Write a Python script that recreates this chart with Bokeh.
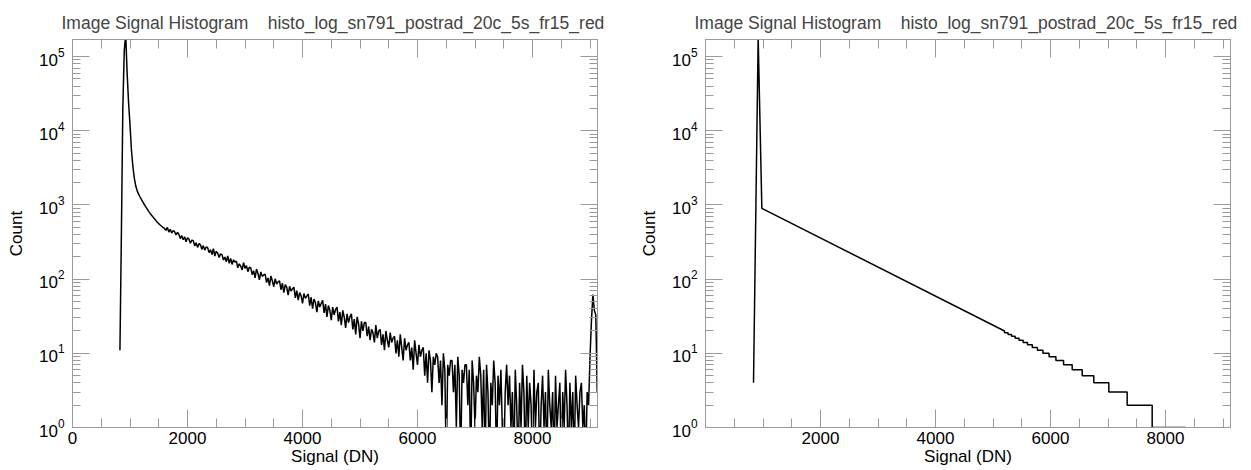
import numpy as np
from bokeh.plotting import figure
from bokeh.layouts import row
from bokeh.models import (Range1d, LinearAxis, LogAxis, LogTicker, FixedTicker,
                          CustomJSTickFormatter)
from bokeh.embed import file_html
from bokeh.resources import INLINE

# ---------------- data ----------------
TITLE = "Image Signal Histogram \u00a0\u00a0\u00a0histo_log_sn791_postrad_20c_5s_fr15_red"
X_LABEL = "Signal (DN)"
Y_LABEL = "Count"

x_ticks_left = [0, 2000, 4000, 6000, 8000]
x_ticks_right = [2000, 4000, 6000, 8000]
x_minor_ticks = [500, 1000, 1500, 2500, 3000, 3500, 4500, 5000, 5500,
                 6500, 7000, 7500, 8500, 9000]
x_limits = [0, 9130]
y_limits = [1, 1.7e5]

# left panel: noisy histogram, bins of 25 DN starting at 825 DN
left_bin_start = 825
left_bin_width = 25
left_counts = [
    11, 400, 20000, 120000, 200000, 60000, 24000, 12000, 5500, 3300,
    2300, 1800, 1550, 1400, 1280, 1180, 1090, 1010, 940, 880,
    820, 770, 725, 690, 650, 615, 585, 560, 537, 516, 498,
    482, 455, 498, 430, 471, 418, 452, 436, 395, 428,
    401, 352, 386, 340, 372, 318, 361, 347, 305, 336,
    329, 281, 310, 268, 301, 290, 252, 283, 246, 271,
    266, 228, 249, 214, 258, 205, 237, 223, 196, 219,
    214, 181, 199, 172, 206, 163, 190, 158, 182, 170,
    175, 142, 161, 150, 133, 167, 140, 152, 126, 145,
    142, 115, 130, 104, 137, 119, 98, 125, 109, 114,
    117, 90, 104, 82, 110, 95, 79, 101, 86, 92,
    95, 72, 88, 66, 84, 78, 61, 80, 69, 74,
    78, 56, 70, 52, 66, 60, 47, 64, 55, 59,
    63, 44, 57, 40, 54, 48, 36, 51, 42, 47,
    52, 35, 46, 31, 44, 38, 28, 42, 33, 39,
    42, 27, 36, 24, 38, 31, 22, 34, 26, 31,
    34, 21, 29, 18, 31, 25, 16, 27, 20, 26,
    26, 17, 23, 15, 21, 19, 14, 24, 16, 20,
    21, 13, 18, 11, 20, 15, 12, 19, 14, 16,
    17, 10, 15, 9, 18, 12, 8, 16, 11, 13,
    14, 8, 12, 6, 15, 10, 7, 13, 9, 11,
    12, 5, 10, 4, 11, 8, 3, 9, 7, 10,
    9, 4, 8, 2, 10, 6, 0, 7, 5, 8,
    8, 3, 7, 1, 9, 5, 0, 6, 4, 7,
    7, 2, 6, 0, 8, 4, 1, 5, 3, 9,
    5, 1, 6, 0, 7, 3, 0, 4, 2, 8,
    4, 0, 5, 2, 6, 1, 0, 3, 7, 2,
    5, 1, 3, 0, 6, 2, 0, 4, 1, 7,
    3, 0, 5, 1, 4, 2, 0, 6, 1, 3,
    4, 0, 2, 5, 1, 3, 0, 6, 2, 1,
    3, 0, 5, 1, 2, 4, 0, 3, 1, 6,
    2, 0, 4, 1, 3, 0, 5, 2, 1, 3,
    4, 1, 2, 0, 3, 2, 9, 28, 62, 38,
    33, 3,
]

# right panel: model histogram
right_peak_x = [835, 916, 980]
right_peak_y = [4, 180000, 900]
right_line_end_x = 5200
right_line_end_y = 20
right_step_edges = [5200, 5262, 5322, 5385, 5452, 5524, 5600, 5683, 5772, 5868,
                    5975, 6094, 6227, 6377, 6551, 6753, 7014, 7333, 7768]
right_step_levels = [19, 18, 17, 16, 15, 14, 13, 12, 11, 10,
                     9, 8, 7, 6, 5, 4, 3, 2, 1]
right_end_x = 8350

# ---------------- build ----------------
GRAY = "#9a9a9a"
FONT = "Liberation Sans"
FS = "17px"

left_x = left_bin_start + left_bin_width * np.arange(len(left_counts))
left_y = np.array(left_counts, dtype=float)
left_y[left_y <= 0] = 0.3  # empty bins drawn at the bottom edge

rx = list(right_peak_x) + [right_line_end_x]
ry = list(right_peak_y) + [right_line_end_y]
for e, lv in zip(right_step_edges, right_step_levels):
    rx += [e, e]
    ry += [ry[-1], lv]
rx.append(right_end_x)
ry.append(right_step_levels[-1])


def style_axis(ax, major_in, minor_in, show_labels=True):
    ax.axis_line_color = GRAY
    ax.major_tick_line_color = GRAY
    ax.minor_tick_line_color = GRAY
    ax.major_tick_out = 0
    ax.minor_tick_out = 0
    ax.major_tick_in = major_in
    ax.minor_tick_in = minor_in
    ax.major_label_text_font = FONT
    ax.major_label_text_font_size = FS
    ax.major_label_text_color = "black"
    ax.axis_label_text_font = FONT
    ax.axis_label_text_font_size = FS
    ax.axis_label_text_font_style = "normal"
    ax.axis_label_text_color = "black"
    if not show_labels:
        ax.formatter = CustomJSTickFormatter(code="return ''")
        ax.major_label_standoff = 0


def make_panel(xs, ys, x_ticks, width, border_left, border_right):
    p = figure(width=width, height=468,
               x_range=Range1d(*x_limits), y_range=Range1d(*y_limits),
               y_axis_type="log", output_backend="svg", toolbar_location=None,
               min_border_left=border_left, min_border_right=border_right,
               min_border_top=39, min_border_bottom=41, title=TITLE)
    p.title.text_font = FONT
    p.title.text_font_size = "17.5px"
    p.title.text_font_style = "normal"
    p.title.offset = -11
    p.title.standoff = 14
    p.outline_line_color = GRAY
    p.grid.visible = False
    p.background_fill_color = "white"
    p.border_fill_color = "white"

    xt = FixedTicker(ticks=x_ticks, minor_ticks=x_minor_ticks)
    xa = p.xaxis[0]
    xa.ticker = xt
    xa.axis_label = X_LABEL
    style_axis(xa, 18, 9)
    xa.major_label_standoff = 4
    xa.axis_label_standoff = 0

    ya = p.yaxis[0]
    ya.ticker = LogTicker(num_minor_ticks=10)
    ya.axis_label = Y_LABEL
    style_axis(ya, 17, 8)
    ya.major_label_standoff = 8
    ya.axis_label_standoff = 10

    top = LinearAxis(ticker=FixedTicker(ticks=x_ticks_left, minor_ticks=x_minor_ticks))
    style_axis(top, 18, 9, show_labels=False)
    p.add_layout(top, "above")
    right = LogAxis(ticker=LogTicker(num_minor_ticks=10))
    style_axis(right, 17, 8, show_labels=False)
    p.add_layout(right, "right")

    p.line(xs, ys, line_color="black", line_width=1.5)
    return p


p1 = make_panel(left_x, left_y, x_ticks_left, 628, 72, 31)
p2 = make_panel(np.array(rx), np.array(ry), x_ticks_right, 620, 77, 18)

layout = row(p1, p2)
open("out.html", "w").write(file_html(layout, INLINE))
